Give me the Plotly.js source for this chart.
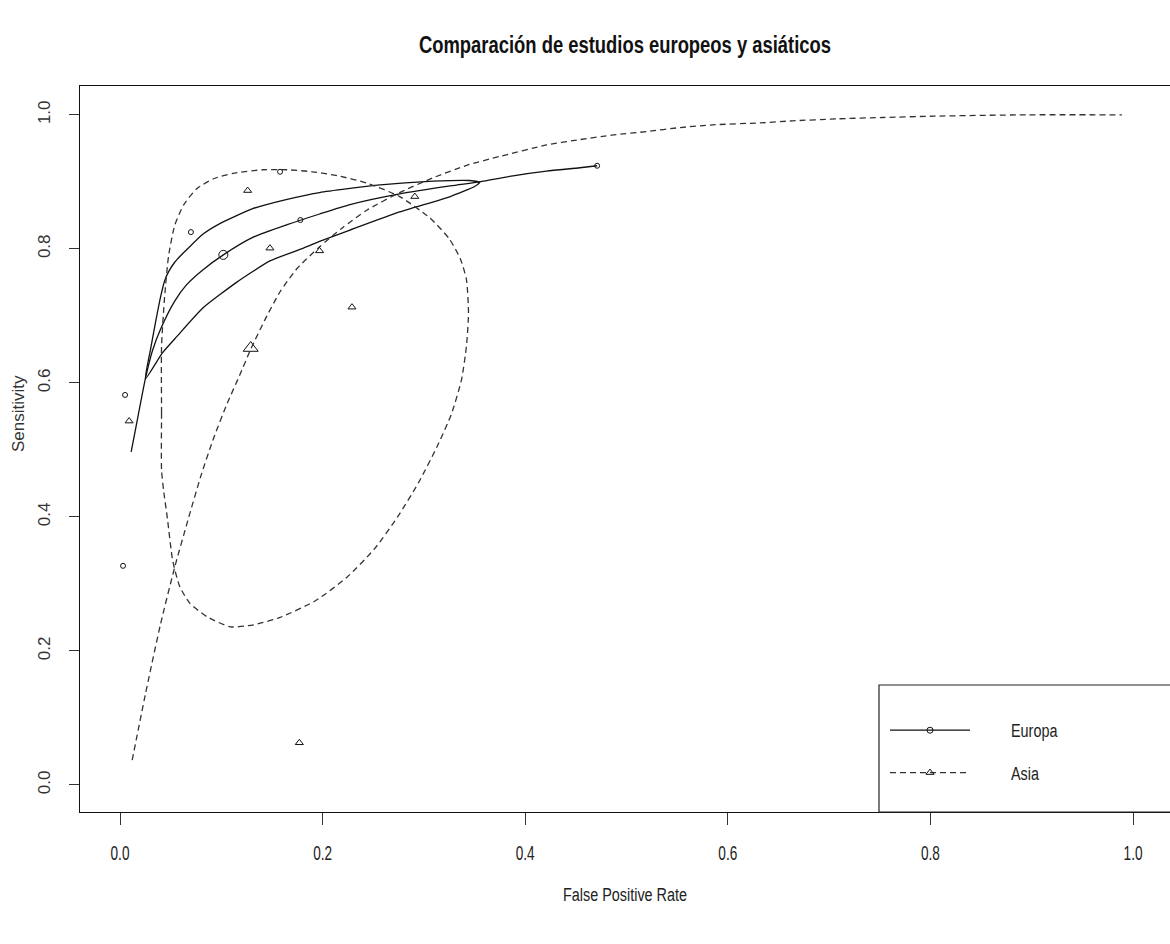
<!DOCTYPE html>
<html>
<head>
<meta charset="utf-8">
<script src="https://cdn.plot.ly/plotly-3.0.1.min.js"></script>
<style>html,body{margin:0;padding:0;background:#fff;overflow:hidden}#chart{width:1170px;height:944px}</style>
</head>
<body>
<div id="chart"></div>
<script>
// ---- Data ----
var xTickVals = [0, 0.2, 0.4, 0.6, 0.8, 1.0];
var xTickText = ["0.0", "0.2", "0.4", "0.6", "0.8", "1.0"];
var yTickVals = [0, 0.2, 0.4, 0.6, 0.8, 1.0];
var yTickText = ["0.0", "0.2", "0.4", "0.6", "0.8", "1.0"];

// Europa: study points (False Positive Rate, Sensitivity)
var europaFpr  = [0.003, 0.005, 0.070, 0.158, 0.178, 0.471];
var europaSens = [0.327, 0.582, 0.825, 0.915, 0.843, 0.924];
// Europa: summary point
var europaSumFpr  = [0.102];
var europaSumSens = [0.791];
// Europa: SROC curve
var europaSrocFpr  = [0.011, 0.018, 0.025, 0.032, 0.040, 0.054, 0.066, 0.082, 0.102, 0.131, 0.165, 0.197, 0.227, 0.276, 0.326, 0.355, 0.388, 0.421, 0.454, 0.471];
var europaSrocSens = [0.497, 0.552, 0.606, 0.648, 0.680, 0.722, 0.747, 0.769, 0.791, 0.817, 0.836, 0.852, 0.866, 0.882, 0.894, 0.900, 0.909, 0.916, 0.921, 0.924];
// Europa: confidence region
var europaRegFpr  = [0.025, 0.030, 0.035, 0.040, 0.044, 0.048, 0.054, 0.060, 0.066, 0.082, 0.099, 0.131, 0.165, 0.197, 0.254, 0.309, 0.345, 0.355, 0.350, 0.326, 0.276, 0.227, 0.197, 0.181, 0.148, 0.115, 0.082, 0.056, 0.042, 0.025];
var europaRegSens = [0.606, 0.649, 0.690, 0.728, 0.752, 0.766, 0.780, 0.790, 0.799, 0.822, 0.838, 0.860, 0.874, 0.884, 0.895, 0.901, 0.902, 0.899, 0.893, 0.878, 0.855, 0.828, 0.811, 0.801, 0.782, 0.750, 0.712, 0.669, 0.645, 0.606];

// Asia: study points
var asiaFpr  = [0.009, 0.126, 0.148, 0.177, 0.197, 0.229, 0.291];
var asiaSens = [0.543, 0.887, 0.801, 0.063, 0.797, 0.713, 0.878];
// Asia: summary point
var asiaSumFpr  = [0.129];
var asiaSumSens = [0.652];
// Asia: SROC curve
var asiaSrocFpr  = [0.012, 0.025, 0.040, 0.054, 0.067, 0.080, 0.093, 0.106, 0.118, 0.129, 0.143, 0.158, 0.175, 0.197, 0.220, 0.244, 0.276, 0.309, 0.343, 0.375, 0.421, 0.454, 0.487, 0.520, 0.553, 0.585, 0.632, 0.664, 0.708, 0.753, 0.803, 0.895, 0.989];
var asiaSrocSens = [0.037, 0.135, 0.240, 0.325, 0.395, 0.462, 0.520, 0.570, 0.611, 0.650, 0.694, 0.736, 0.771, 0.803, 0.832, 0.858, 0.884, 0.906, 0.925, 0.938, 0.955, 0.963, 0.970, 0.975, 0.981, 0.985, 0.988, 0.991, 0.994, 0.996, 0.998, 1.000, 1.000];
// Asia: confidence region
var asiaRegFpr  = [0.041, 0.041, 0.041, 0.044, 0.048, 0.054, 0.063, 0.076, 0.093, 0.113, 0.141, 0.165, 0.190, 0.215, 0.244, 0.276, 0.306, 0.325, 0.336, 0.342, 0.344, 0.342, 0.337, 0.327, 0.313, 0.295, 0.274, 0.251, 0.224, 0.193, 0.158, 0.132, 0.109, 0.086, 0.069, 0.059, 0.052, 0.047, 0.043, 0.041];
var asiaRegSens = [0.470, 0.555, 0.654, 0.728, 0.790, 0.835, 0.866, 0.890, 0.905, 0.913, 0.918, 0.918, 0.915, 0.909, 0.898, 0.878, 0.846, 0.815, 0.785, 0.754, 0.704, 0.655, 0.604, 0.553, 0.505, 0.452, 0.400, 0.352, 0.310, 0.275, 0.250, 0.239, 0.236, 0.251, 0.271, 0.296, 0.335, 0.395, 0.440, 0.470];

var seriesNames = ["Europa", "Asia"];
var titleText = "Comparación de estudios europeos y asiáticos";
var xTitle = "False Positive Rate";
var yTitle = "Sensitivity";

// ---- Styles ----
var FONT = "'Liberation Sans', Arial, sans-serif";
var solid = {color: "#111", width: 1.3};
var dashed = {color: "#333", width: 1.3, dash: "6px,4px"};
var pad = "\u00a0\u00a0\u00a0\u00a0\u00a0\u00a0\u00a0\u00a0\u00a0";

var traces = [
  {x: europaRegFpr, y: europaRegSens, mode: "lines", line: Object.assign({shape: "spline", smoothing: 0.5}, solid), showlegend: false, hoverinfo: "skip"},
  {x: europaSrocFpr, y: europaSrocSens, mode: "lines", line: Object.assign({shape: "spline", smoothing: 0.6}, solid), showlegend: false, hoverinfo: "skip"},
  {x: asiaRegFpr, y: asiaRegSens, mode: "lines", line: Object.assign({shape: "spline", smoothing: 0.6}, dashed), showlegend: false, hoverinfo: "skip"},
  {x: asiaSrocFpr, y: asiaSrocSens, mode: "lines", line: Object.assign({shape: "spline", smoothing: 0.6}, dashed), showlegend: false, hoverinfo: "skip"},
  {x: europaFpr, y: europaSens, mode: "markers", marker: {symbol: "circle-open", size: 5, color: "#111", line: {width: 1, color: "#111"}}, showlegend: false},
  {x: asiaFpr, y: asiaSens, mode: "markers", marker: {symbol: "triangle-up-open", size: 7, color: "#111", line: {width: 1, color: "#111"}}, showlegend: false},
  {x: europaSumFpr, y: europaSumSens, mode: "markers", marker: {symbol: "circle-open", size: 9, color: "#111", line: {width: 1, color: "#111"}}, showlegend: false},
  {x: asiaSumFpr, y: asiaSumSens, mode: "markers", marker: {symbol: "triangle-up-open", size: 13, color: "#111", line: {width: 1, color: "#111"}}, showlegend: false},
  // legend entries
  {x: [null], y: [null], name: pad + seriesNames[0], legendgroup: "e", mode: "lines+markers", line: solid, marker: {symbol: "circle-open", size: 6, color: "#111", line: {width: 1, color: "#111"}}},
  {x: [null], y: [null], name: pad + seriesNames[1], legendgroup: "a", mode: "lines+markers", line: dashed, marker: {symbol: "triangle-up-open", size: 7, color: "#111", line: {width: 1, color: "#111"}}}
];

var L = 80, T = 86, R = 0, B = 132;
var W = 1170, H = 944;
var pw = W - L - R, ph = H - T - B;

var layout = {
  width: W, height: H,
  margin: {l: L, r: R, t: T, b: B},
  paper_bgcolor: "#fff", plot_bgcolor: "#fff",
  showlegend: true,
  title: {text: titleText, x: 0.5, xref: "paper", xanchor: "center", y: 1 - 45 / H, yanchor: "middle",
          font: {family: FONT, size: 23, color: "#111", weight: "bold"}},
  xaxis: {range: [-0.0395, 1.0365], tickvals: xTickVals, ticktext: xTickText,
          ticks: "outside", ticklen: 12, tickwidth: 1, tickcolor: "#333",
          showline: true, linecolor: "#111", linewidth: 1.3, mirror: true,
          showgrid: false, zeroline: false, ticklabelstandoff: 11,
          tickfont: {family: FONT, size: 20, color: "#222"},
          title: {text: xTitle, standoff: 25, font: {family: FONT, size: 18, color: "#222"}}},
  yaxis: {range: [-0.0403, 1.043], tickvals: yTickVals, ticktext: yTickText, tickangle: -90,
          ticks: "outside", ticklen: 10, tickwidth: 1, tickcolor: "#333",
          showline: true, linecolor: "#111", linewidth: 1.3, mirror: false,
          showgrid: false, zeroline: false, ticklabelstandoff: 12,
          tickfont: {family: FONT, size: 17, color: "#333"}},
  annotations: [
    {text: yTitle, xref: "paper", yref: "paper", x: (18 - L) / pw, y: (812 - 414) / ph,
     xanchor: "center", yanchor: "middle", textangle: -90, showarrow: false,
     font: {family: FONT, size: 17, color: "#333"}}
  ],
  legend: {x: (885 - L) / pw, y: (812 - 712) / ph, xanchor: "left", yanchor: "top",
           bgcolor: "rgba(0,0,0,0)", borderwidth: 0, itemwidth: 80, tracegroupgap: 16,
           font: {family: FONT, size: 18, color: "#222"}},
  shapes: [
    {type: "rect", xref: "paper", yref: "paper", x0: (879 - L) / pw, x1: 1.05, y0: 0, y1: (812 - 685) / ph,
     line: {color: "#222", width: 1.2}, fillcolor: "rgba(0,0,0,0)", layer: "above"}
  ]
};

function condense(gd, selector, f) {
  gd.querySelectorAll(selector).forEach(function (t) {
    var len = t.getComputedTextLength();
    if (len > 0) {
      t.setAttribute("textLength", (len * f).toFixed(2));
      t.setAttribute("lengthAdjust", "spacingAndGlyphs");
    }
  });
}

var gd = document.getElementById("chart");
Plotly.newPlot(gd, traces, layout, {displayModeBar: false, staticPlot: true}).then(function () {
  condense(gd, ".gtitle", 0.8);
  condense(gd, ".xtick text", 0.68);
  condense(gd, ".xtitle", 0.8);
  condense(gd, ".legendtext", 0.8);
});
</script>
</body>
</html>
